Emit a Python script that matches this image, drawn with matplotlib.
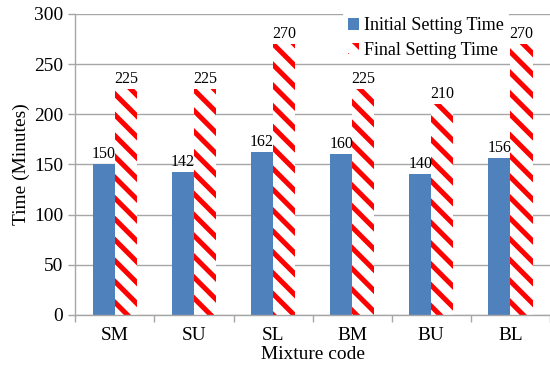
import numpy as np
import matplotlib.pyplot as plt

plt.rcParams['font.family'] = ['Liberation Serif', 'DejaVu Serif']
plt.rcParams['hatch.linewidth'] = 2.9

mixtures = ['SM', 'SU', 'SL', 'BM', 'BU', 'BL']
initial_time = [150, 142, 162, 160, 140, 156]
final_time = [225, 225, 270, 225, 210, 270]

# 125 dpi so the hatch stripes come out a little wider apart
fig, ax = plt.subplots(figsize=(4.4, 2.92), dpi=125)
fig.subplots_adjust(left=0.137, right=1.0, top=0.962, bottom=0.137)

x = np.arange(len(mixtures))
w = 0.28
b1 = ax.bar(x - w / 2, initial_time, w, color='#4f81bd', label='Initial Setting Time', zorder=2)
b2 = ax.bar(x + w / 2, final_time, w, facecolor='white', edgecolor='#ff0000', linewidth=0,
            hatch='\\\\', label='Final Setting Time', zorder=2)

for rect, v in zip(b1, initial_time):
    ax.text(rect.get_x() + rect.get_width() / 2, v + 2, str(v), ha='center', va='bottom', fontsize=9.2)
for rect, v in zip(b2, final_time):
    ax.text(rect.get_x() + rect.get_width() / 2, v + 2, str(v), ha='center', va='bottom', fontsize=9.2)

ax.set_xlim(-0.5, len(mixtures) - 0.5)
ax.set_ylim(0, 300)
ax.set_yticks(range(0, 301, 50))
ax.yaxis.grid(True, color='#a6a6a6', linewidth=0.8, zorder=0)
ax.set_axisbelow(True)

ax.set_xticks(x)
ax.set_xticklabels(mixtures, fontsize=11.2)
ax.set_xticks(np.arange(len(mixtures) + 1) - 0.5, minor=True)
ax.tick_params(axis='x', which='major', length=0, pad=7)
ax.tick_params(axis='x', which='minor', length=4, width=0.8, color='#a6a6a6')
ax.tick_params(axis='y', labelsize=11.2, length=4, width=0.8, color='#a6a6a6', pad=3)

for s in ['top', 'right']:
    ax.spines[s].set_visible(False)
ax.spines['left'].set_color('#a6a6a6')
ax.spines['bottom'].set_color('#a6a6a6')
ax.spines['left'].set_linewidth(0.8)
ax.spines['bottom'].set_linewidth(0.8)

ax.set_xlabel('Mixture code', fontsize=11.2, labelpad=1)
ax.set_ylabel('Time (Minutes)', fontsize=11.2, labelpad=2)

leg = ax.legend(loc='upper right', bbox_to_anchor=(0.93, 1.03), fontsize=10.4, frameon=True,
                fancybox=False, edgecolor='white', framealpha=1, handlelength=0.6,
                handleheight=0.6, handletextpad=0.3, borderpad=0.2, labelspacing=0.4)

fig.savefig('out.png')
